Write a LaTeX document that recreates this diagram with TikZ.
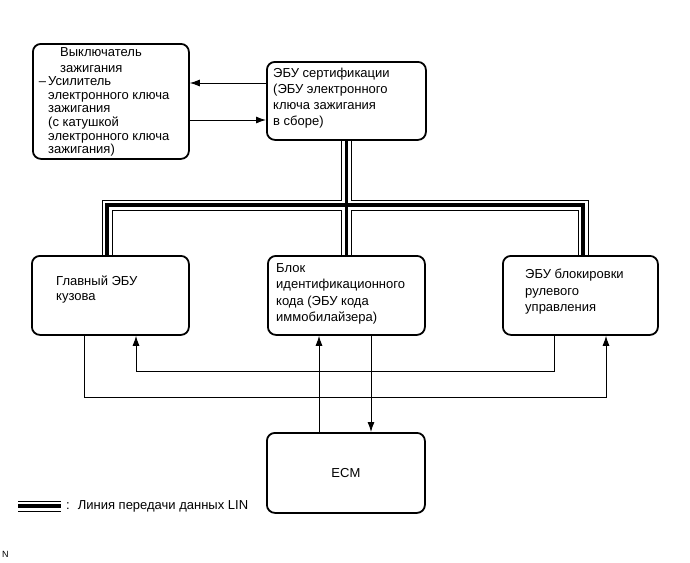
\documentclass[tikz,border=0pt]{standalone}
\usepackage{fontspec}
\setmainfont{Liberation Sans}
\usetikzlibrary{arrows.meta,backgrounds}
\begin{document}
\begin{tikzpicture}[x=1pt,y=-1pt,
  box/.style={draw, line width=1.8pt, rounded corners=8pt, fill=white, inner sep=0pt, anchor=north west},
  lbl/.style={anchor=north west, inner sep=0pt, align=left, font=\fontsize{13}{16}\selectfont},
  conn/.style={line width=0.9pt},
  arr/.style={conn, -{Latex[length=10pt,width=7pt]}},
  linA/.style={line width=11pt, black},
  linB/.style={line width=9pt, white},
  linC/.style={line width=3.6pt, black}]
\useasboundingbox (0,0) rectangle (690,562);

% boxes
\node[box, minimum width=156pt, minimum height=115pt] (ign) at (32,43) {};
\node[box, minimum width=159pt, minimum height=78pt] (cert) at (266,61) {};
\node[box, minimum width=157pt, minimum height=79pt] (body) at (31,255) {};
\node[box, minimum width=157pt, minimum height=79pt] (immo) at (267,255) {};
\node[box, minimum width=155pt, minimum height=79pt] (steer) at (502,255) {};
\node[box, minimum width=158pt, minimum height=80pt, font=\fontsize{13}{15}\selectfont] (ecm) at (266,432) {ECM};

% labels
\node[lbl, font=\fontsize{13}{13.6}\selectfont] (ignt) at (48,47)
  {\hspace*{12pt}Выключатель\\[2.4pt]\hspace*{12pt}зажигания\\\llap{–\hspace{2pt}}Усилитель\\электронного ключа\\зажигания\\(с катушкой\\электронного ключа\\зажигания)};
\node[lbl] (certt) at (273,68) {ЭБУ сертификации\\(ЭБУ электронного\\ключа зажигания\\в сборе)};
\node[lbl, font=\fontsize{13}{15}\selectfont] (bodyt) at (56,276) {Главный ЭБУ\\кузова};
\node[lbl, font=\fontsize{13}{16.5}\selectfont] (immot) at (276,263) {Блок\\идентификационного\\кода (ЭБУ кода\\иммобилайзера)};
\node[lbl, font=\fontsize{13}{16.5}\selectfont] (steert) at (525,269) {ЭБУ блокировки\\рулевого\\управления};

% helper coordinates
\coordinate (yA) at (0,83);
\coordinate (yB) at (0,120);
\coordinate (yI) at (0,371);
\coordinate (yO) at (0,397);
\coordinate (xS) at (554,0);
\coordinate (xB) at (136,0);
\coordinate (xL) at (84,0);
\coordinate (xR) at (606,0);
\coordinate (xU) at (319,0);
\coordinate (xD) at (371,0);
\coordinate (busL) at (107,205);
\coordinate (busR) at (583,205);
\coordinate (legA) at (18,506);
\coordinate (legB) at (61,506);

% LIN bus
\begin{scope}[on background layer]
  \foreach \s in {linA,linB,linC}{
    \draw[\s] (body.north -| busL) -- (busL) -- (busR) -- (steer.north -| busR);
    \draw[\s] (cert.south) -- (immo.north);
  }
\end{scope}

% connectors
\draw[arr] (cert.west |- yA) -- (ign.east |- yA);
\draw[arr] (ign.east |- yB) -- (cert.west |- yB);
\draw[arr] (steer.south -| xS) -- (xS |- yI) -- (xB |- yI) -- (body.south -| xB);
\draw[arr] (body.south -| xL) -- (xL |- yO) -- (xR |- yO) -- (steer.south -| xR);
\draw[arr] (ecm.north -| xU) -- (immo.south -| xU);
\draw[arr] (immo.south -| xD) -- (ecm.north -| xD);

% legend
\foreach \s in {linA,linB,linC}{
  \draw[\s] (legA) -- (legB);
}
\node[anchor=west, inner sep=0pt, font=\fontsize{13}{14}\selectfont] (legt) at (66,506) {:\hspace{8pt}Линия передачи данных LIN};
\node[anchor=west, inner sep=0pt, font=\fontsize{9}{10}\selectfont] (nmark) at (2,554) {N};
\end{tikzpicture}
\end{document}
